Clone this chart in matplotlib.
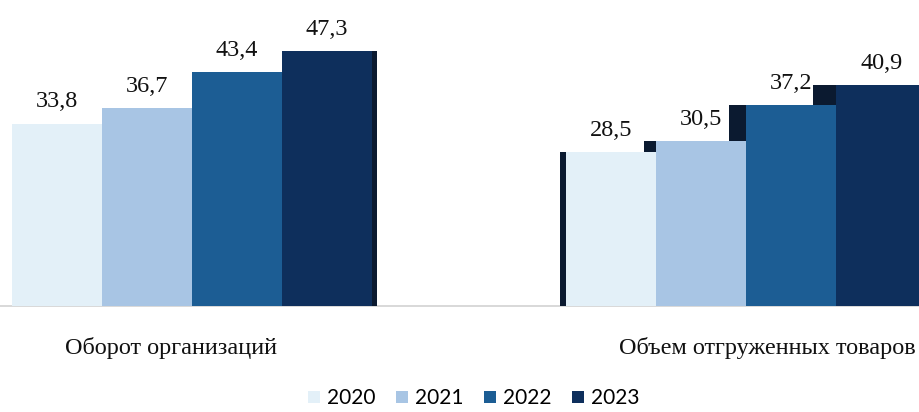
import matplotlib.pyplot as plt
from matplotlib.patches import Polygon

years = ['2020', '2021', '2022', '2023']
categories = ['Оборот организаций', 'Объем отгруженных товаров']
turnover = [33.8, 36.7, 43.4, 47.3]
shipped = [28.5, 30.5, 37.2, 40.9]

colors = ['#e3f0f8', '#a8c5e4', '#1c5d94', '#0e2f5c']
side_color = '#0b1a30'

fig = plt.figure(figsize=(9.2, 4.12), dpi=100)
ax = fig.add_axes([0, 0.252, 1, 0.748])

group_start = [0, 6.16]
center = 4.48   # perspective centre of the old 3D chart
k = 0.062

for g, vals in enumerate([turnover, shipped]):
    for i, v in enumerate(vals):
        x = group_start[g] + i
        ax.bar(x, v, width=1.0, color=colors[i], zorder=2,
               label=years[i] if g == 0 else None)
        # side face turned to the centre
        edge = x + 0.5 if x < center else x - 0.5
        w = k * abs(edge - center)
        back = edge + w if x < center else edge - w
        ax.add_patch(Polygon([(edge, 0), (edge, v), (back, v), (back, 0)],
                             closed=True, color=side_color, zorder=1, lw=0))
        ax.annotate(f'{v:.1f}'.replace('.', ','), (x, v), xytext=(0, 8),
                    textcoords='offset points', ha='center', va='bottom',
                    fontsize=17.5, family='Liberation Serif', color='#111111')

ax.axhline(0, color='#d2d2d2', lw=1.2, zorder=0)
ax.set_xlim(-0.63, 9.59)
ax.set_ylim(-0.4, 56.7)
ax.set_yticks([])
ax.set_xticks([1.27, 7.89])
ax.set_xticklabels(categories, fontsize=17.5, family='Liberation Serif', color='#111111')
ax.tick_params(axis='x', length=0, pad=21)
for s in ax.spines.values():
    s.set_visible(False)

fig.legend(loc='lower center', bbox_to_anchor=(0.515, -0.016), ncol=4, frameon=False,
           prop={'family': 'Lato', 'size': 15}, handlelength=0.55, handleheight=0.55,
           handletextpad=0.35, columnspacing=1.0, borderpad=0)

fig.savefig('out.png', dpi=100, facecolor='white')
